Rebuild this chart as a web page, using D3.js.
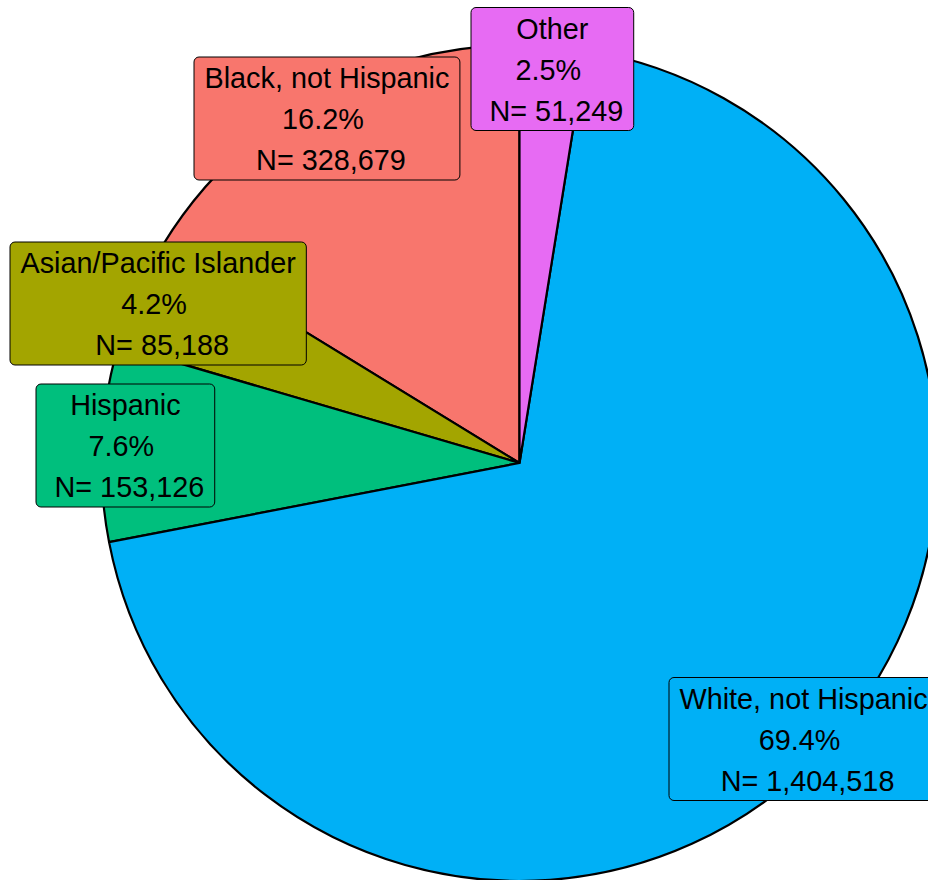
<!DOCTYPE html>
<html>
<head>
<meta charset="utf-8">
<script src="https://cdn.jsdelivr.net/npm/d3@7"></script>
<style>
  html, body { margin: 0; padding: 0; background: #ffffff; }
  svg { display: block; }
  .lbl text { white-space: pre; }
</style>
</head>
<body>
<svg id="chart" width="928" height="880"></svg>
<script>
// Race / ethnicity groups, in factor order (drawn counter-clockwise from 12 o'clock)
const groups = ["Black, not Hispanic", "Asian/Pacific Islander", "Hispanic", "White, not Hispanic", "Other"];
const counts = [328679, 85188, 153126, 1404518, 51249];
const colors = ["#F8766D", "#A3A500", "#00BF7D", "#00B0F6", "#E76BF3"];

// Label box placement (left edge x, vertical centre y) for each group
const labelLeft = [194, 10, 36, 669, 471];
const labelMidY = [118.5, 303.5, 445.5, 739, 69];

const W = 928, H = 880;
const cx = 519.5, cy = 463, R = 418;
const fontSize = 28.8;
const lineGap = 41;
const boxH = 123;
const padX = 10.5;

const svg = d3.select("#chart");
svg.append("rect").attr("width", W).attr("height", H).attr("fill", "#ffffff");

const total = d3.sum(counts);
const data = groups.map((g, i) => ({ group: g, n: counts[i], color: colors[i], i }));

const pie = d3.pie()
  .sort(null)
  .value(d => d.n)
  .startAngle(0)
  .endAngle(-2 * Math.PI);

const arc = d3.arc().innerRadius(0).outerRadius(R);

const g = svg.append("g").attr("transform", `translate(${cx},${cy})`);
g.selectAll("path")
  .data(pie(data))
  .join("path")
  .attr("d", arc)
  .attr("fill", d => d.data.color)
  .attr("stroke", "#000")
  .attr("stroke-width", 2.2)
  .attr("stroke-linejoin", "round");

const fmtN = d3.format(",");
const pct = n => (n / total * 100).toFixed(1) + "%";

const labels = svg.append("g").attr("class", "lbl")
  .attr("font-family", "'Liberation Sans', Arial, Helvetica, sans-serif")
  .attr("font-size", fontSize)
  .attr("fill", "#000");

data.forEach(d => {
  const lines = [d.group, pct(d.n) + " ", " N= " + fmtN(d.n)];
  const lg = labels.append("g");
  const rect = lg.append("rect");
  const texts = lg.selectAll("text")
    .data(lines)
    .join("text")
    .attr("text-anchor", "middle")
    .text(t => t);
  let maxW = 0;
  texts.each(function () { maxW = Math.max(maxW, this.getComputedTextLength()); });
  const bw = maxW + 2 * padX;
  const x0 = labelLeft[d.i];
  const y0 = labelMidY[d.i] - boxH / 2;
  rect.attr("x", x0).attr("y", y0)
    .attr("width", bw).attr("height", boxH)
    .attr("rx", 5).attr("ry", 5)
    .attr("fill", d.color)
    .attr("stroke", "#000")
    .attr("stroke-width", 1);
  texts.attr("x", x0 + bw / 2)
    .attr("y", (t, k) => y0 + 31 + k * lineGap);
});
</script>
</body>
</html>
